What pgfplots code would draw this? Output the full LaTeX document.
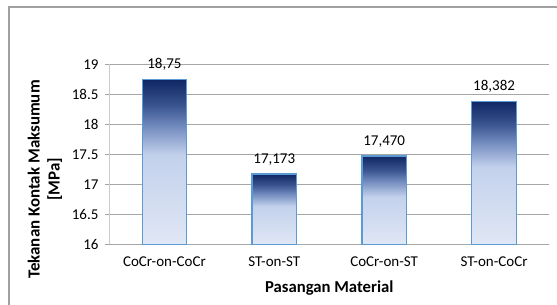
\documentclass[border=0pt]{standalone}
\usepackage{pgfplots}
\pgfplotsset{compat=1.18}
\usepackage{fontspec}
\setmainfont{Carlito}
\definecolor{barA}{HTML}{E0E7F5}
\definecolor{barB}{HTML}{C3D1EC}
\definecolor{barC}{HTML}{7089BD}
\definecolor{barD}{HTML}{3A5590}
\definecolor{barE}{HTML}{0F2764}
\definecolor{barEdge}{HTML}{5B9BD5}
\definecolor{gridc}{HTML}{A6A6A6}
\definecolor{framec}{HTML}{A0A0A0}
\pgfdeclareverticalshading{barshade}{100bp}{color(0bp)=(barA); color(25bp)=(barA); color(52bp)=(barB); color(61bp)=(barC); color(67bp)=(barD); color(75bp)=(barE); color(100bp)=(barE)}
\pgfplotsset{barpoly/.style={draw=barEdge, line width=1.3pt, shade, shading=barshade}}
\begin{document}
\begin{tikzpicture}
\useasboundingbox (0pt,0pt) rectangle (557pt,305pt);
\draw[framec, line width=1.2pt] (9pt,-2pt) -- (9pt,298pt) -- (560pt,298pt);
\begin{axis}[
  at={(109.5pt,60.7pt)}, anchor=south west,
  scale only axis, width=439.5pt, height=180pt,
  xmin=-0.5, xmax=3.5, ymin=16, ymax=19,
  ytick={16,16.5,17,17.5,18,18.5,19},
  xtick={0,1,2,3},
  xticklabels={CoCr-on-CoCr,ST-on-ST,CoCr-on-ST,ST-on-CoCr},
  x tick label style={font=\fontsize{15}{18}\selectfont, yshift=-4pt},
  y tick label style={font=\fontsize{15}{18}\selectfont, xshift=-3pt},
  /pgf/number format/assume math mode=true,
  /pgf/number format/.cd, fixed, use period, /pgfplots/.cd,
  axis x line=bottom, axis y line=left,
  x axis line style={-, draw=gridc, line width=1pt},
  y axis line style={-, draw=gridc!60, line width=1pt},
  tick align=outside,
  major tick length=4.5pt,
  x tick style={draw=none},
  y tick style={draw=gridc, line width=0.8pt},
  extra x ticks={-0.5,0.5,1.5,2.5,3.5},
  extra x tick labels={},
  extra x tick style={grid=none, major tick length=5pt, tick style={draw=gridc, line width=0.8pt}},
  ymajorgrids, grid style={draw=gridc, line width=0.8pt},
  xlabel={\bfseries Pasangan Material},
  xlabel style={font=\fontsize{16.7}{20}\selectfont, at={(axis description cs:0.5,0)}, anchor=center, yshift=-43.7pt},
  ylabel={\bfseries Tekanan Kontak Maksumum\\\bfseries [MPa]},
  ylabel style={font=\fontsize{16.9}{20}\selectfont, align=center, at={(axis description cs:-0.1468,0.36)}, anchor=center},
  clip=false,
]
\addplot[barpoly] coordinates {(-0.2025,16) (-0.2025,18.75) (0.2025,18.75) (0.2025,16)} --cycle;
\addplot[barpoly] coordinates {(0.7975,16) (0.7975,17.173) (1.2025,17.173) (1.2025,16)} --cycle;
\addplot[barpoly] coordinates {(1.7975,16) (1.7975,17.470) (2.2025,17.470) (2.2025,16)} --cycle;
\addplot[barpoly] coordinates {(2.7975,16) (2.7975,18.382) (3.2025,18.382) (3.2025,16)} --cycle;
\addplot[draw=none, mark=none,
  point meta=explicit symbolic,
  nodes near coords,
  every node near coord/.append style={font=\fontsize{15}{18}\selectfont, anchor=base, yshift=10.5pt, text=black}]
table[x=x, y=y, meta=lab] {
x y lab
0 18.75 18,75
1 17.173 17,173
2 17.470 17,470
3 18.382 18,382
};
\end{axis}
\end{tikzpicture}
\end{document}
